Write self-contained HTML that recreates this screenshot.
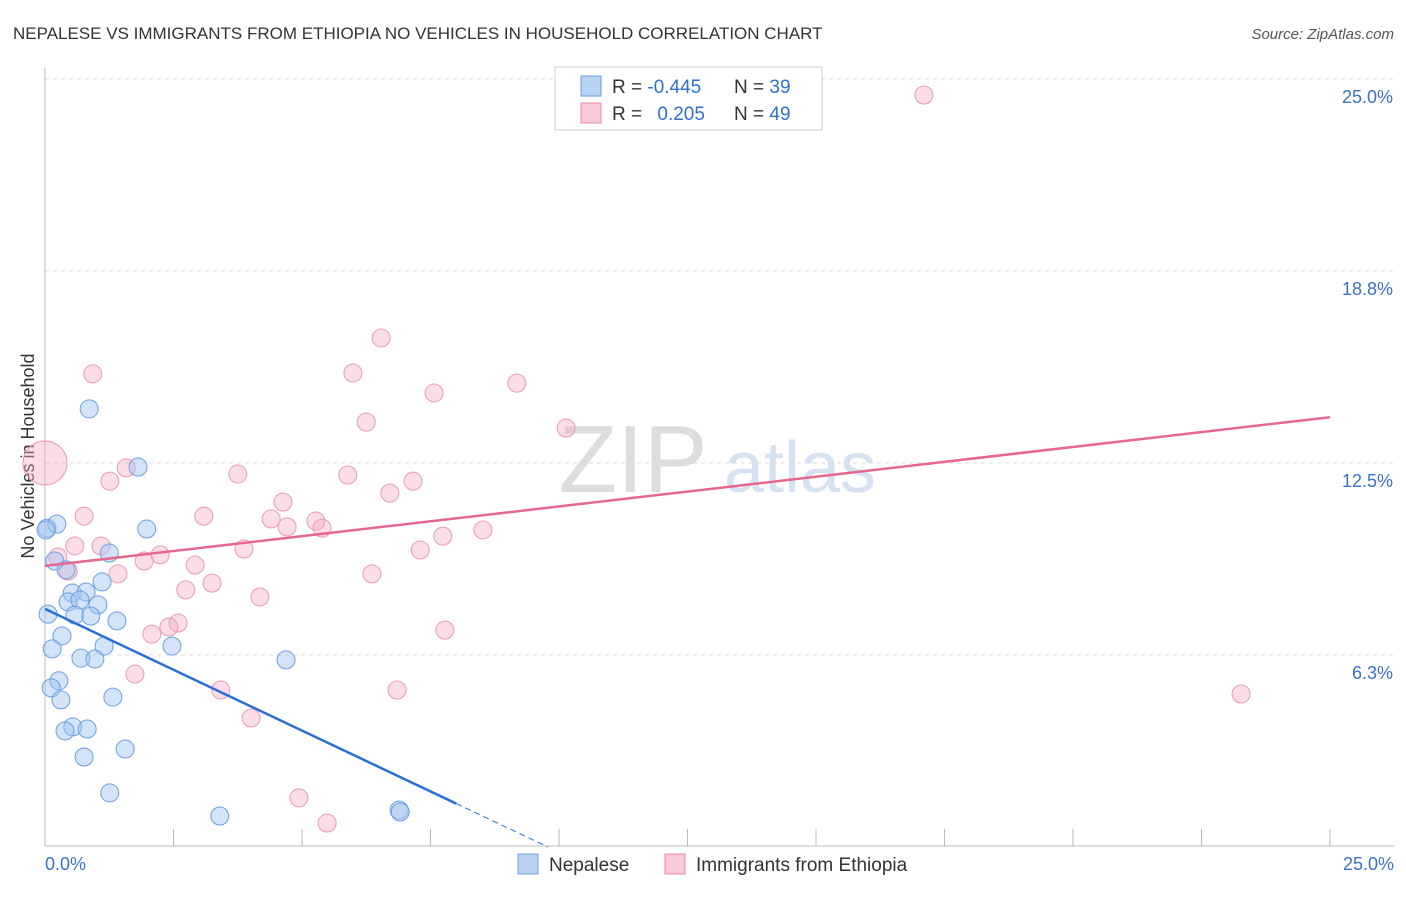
<!DOCTYPE html>
<html><head><meta charset="utf-8"><style>
body{margin:0;background:#fff;font-family:"Liberation Sans",sans-serif;}
svg text{font-family:"Liberation Sans",sans-serif;}
</style></head><body>
<svg id="c" width="1406" height="892">
<text x="13" y="39" font-size="17" fill="#333">NEPALESE VS IMMIGRANTS FROM ETHIOPIA NO VEHICLES IN HOUSEHOLD CORRELATION CHART</text>
<text x="1394" y="39" font-size="15" fill="#555" font-style="italic" text-anchor="end">Source: ZipAtlas.com</text>
<text x="633" y="492" font-size="96" fill="#ddd" font-family="Liberation Serif" text-anchor="middle">ZIP</text>
<text x="800" y="492" font-size="72" fill="#d6e2f2" text-anchor="middle">atlas</text>
<text x="34" y="456" font-size="18" fill="#333" text-anchor="middle" transform="rotate(-90 34 456)">No Vehicles in Household</text>
<g id="grid"></g><g id="pts"></g><g id="lines"></g>
<g>
<rect x="555" y="67" width="267" height="63" fill="#fff" stroke="#ccc"/>
<rect x="581" y="76" width="20" height="20" fill="#b9d2f2" stroke="#6b9ee0"/>
<rect x="581" y="103" width="20" height="20" fill="#f8c9d6" stroke="#e88aa8"/>
<text x="612" y="93" font-size="19" fill="#333">R = <tspan fill="#2f6fd0">-0.445</tspan></text>
<text x="734" y="93" font-size="19" fill="#333">N = <tspan fill="#2f6fd0">39</tspan></text>
<text x="612" y="120" font-size="19" fill="#333">R = <tspan fill="#2f6fd0" dx="10">0.205</tspan></text>
<text x="734" y="120" font-size="19" fill="#333">N = <tspan fill="#2f6fd0">49</tspan></text>
</g>
<g>
<rect x="518" y="854" width="20" height="20" fill="#b9d2f2" stroke="#6b9ee0"/>
<text x="549" y="871" font-size="19" fill="#333">Nepalese</text>
<rect x="665" y="854" width="20" height="20" fill="#f8c9d6" stroke="#e88aa8"/>
<text x="696" y="871" font-size="19" fill="#333">Immigrants from Ethiopia</text>
</g>
</svg>
<script>
const xTicks=[0,25];
const yTicks=[6.25,12.5,18.75,25];
const yTickLabels=["6.3%","12.5%","18.8%","25.0%"];
const blueX=[0.86,1.81,0.04,0.23,1.98,1.25,0.19,0.41,1.11,0.53,0.80,0.45,0.68,1.03,0.06,0.58,0.89,1.40,0.33,2.47,1.15,0.14,0.70,0.97,4.69,0.27,0.12,1.32,0.31,0.54,0.82,0.39,1.56,0.76,1.26,3.40,6.89,6.91,0.02];
const blueY=[14.26,12.37,10.38,10.51,10.35,9.57,9.31,9.02,8.63,8.27,8.30,7.98,8.04,7.88,7.58,7.55,7.52,7.36,6.87,6.54,6.54,6.45,6.15,6.12,6.09,5.41,5.18,4.88,4.79,3.91,3.84,3.78,3.19,2.93,1.76,1.01,1.20,1.14,10.32];
const pinkX=[17.10,6.54,0.93,5.99,9.18,7.57,6.25,10.14,3.75,1.58,1.26,5.89,7.16,6.71,4.63,0.76,3.09,4.40,5.27,4.71,5.39,8.52,0.58,1.09,7.74,0.25,2.24,3.87,7.30,1.93,2.92,0.45,1.42,6.36,3.25,2.74,4.18,2.59,2.41,2.08,7.78,1.75,3.42,6.85,23.27,4.01,4.94,5.49,0];
const pinkY=[24.48,16.57,15.40,15.43,15.10,14.78,13.83,13.64,12.14,12.34,11.91,12.11,11.91,11.52,11.23,10.77,10.77,10.68,10.61,10.42,10.38,10.32,9.80,9.80,10.12,9.44,9.51,9.70,9.67,9.31,9.18,8.98,8.89,8.89,8.59,8.37,8.14,7.29,7.16,6.93,7.06,5.63,5.11,5.11,4.98,4.20,1.60,0.78,12.50];
const blueTrend=[7.75,-0.792];
const pinkTrend=[9.15,0.1936];
const X=v=>45+v/25*1285, Y=v=>847-v/25*768;
const NS="http://www.w3.org/2000/svg";
function mk(t,a,p){const e=document.createElementNS(NS,t);for(const k in a)e.setAttribute(k,a[k]);document.getElementById(p).appendChild(e);return e;}
let e;
yTicks.forEach((t,i)=>{
e=mk('line',{x1:45,x2:1394,y1:Y(t),y2:Y(t),stroke:'#ddd','stroke-dasharray':'4,4'},'grid');


e=mk('text',{x:1393,y:Y(t)+24,'font-size':18,fill:'#3a72c9','text-anchor':'end'},'grid');e.textContent=yTickLabels[i];


});
e=mk('line',{x1:45,x2:45,y1:68,y2:846,stroke:'#bbb'},'grid');


e=mk('line',{x1:45,x2:1394,y1:846,y2:846,stroke:'#bbb'},'grid');


for(let i=1;i<=10;i++){e=mk('line',{x1:X(i*2.5),x2:X(i*2.5),y1:829,y2:846,stroke:'#bbb'},'grid');

}
xTicks.forEach((t,i)=>{e=mk('text',{x:i?1394:45,y:870,'font-size':18,fill:'#3a72c9','text-anchor':i?'end':'start'},'grid');e.textContent=t.toFixed(1)+'%';

});
pinkX.forEach((v,i)=>{const big=(v===0);e=mk('circle',{cx:X(v),cy:Y(pinkY[i]),r:big?22:9,fill:'rgba(245,170,195,0.4)',stroke:'#eb9ab5','stroke-width':1},'pts');

});
blueX.forEach((v,i)=>{e=mk('circle',{cx:X(v),cy:Y(blueY[i]),r:9,fill:'rgba(160,195,240,0.45)',stroke:'#6c9fe2','stroke-width':1},'pts');

});
e=mk('line',{x1:X(0),y1:Y(pinkTrend[0]),x2:X(25),y2:Y(pinkTrend[0]+25*pinkTrend[1]),stroke:'#e5678f','stroke-width':2.5},'lines');


e=mk('line',{x1:X(0),y1:Y(blueTrend[0]),x2:X(8),y2:Y(blueTrend[0]+8*blueTrend[1]),stroke:'#2a6fd6','stroke-width':2.5},'lines');


const xe=-blueTrend[0]/blueTrend[1];
e=mk('line',{x1:X(8),y1:Y(blueTrend[0]+8*blueTrend[1]),x2:X(xe),y2:Y(0),stroke:'#2a6fd6','stroke-width':1,'stroke-dasharray':'6,4'},'lines');


</script>
</body></html>
